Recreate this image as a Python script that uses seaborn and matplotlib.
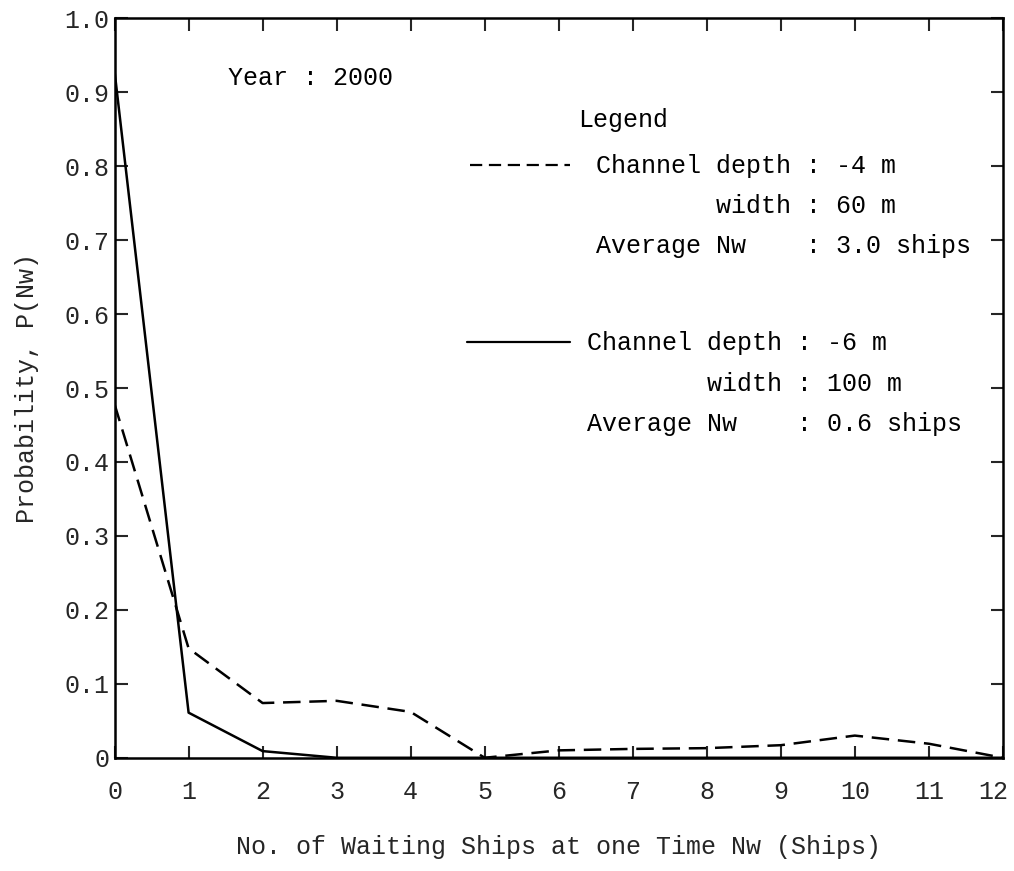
import numpy as np
import pandas as pd
import matplotlib
matplotlib.use("Agg")
import matplotlib.pyplot as plt
import matplotlib.transforms as mtransforms
import seaborn as sns

# ----------------------------
#   Data
# ----------------------------
waiting_ships = [0, 1, 2, 3, 4, 5, 6, 7, 8, 9, 10, 11, 12]
p_depth4 = [0.478, 0.148, 0.074, 0.077, 0.062, 0.0, 0.010, 0.012, 0.013, 0.017, 0.030, 0.019, 0.0]
p_depth6 = [0.928, 0.061, 0.009, 0.0, 0.0, 0.0, 0.0, 0.0, 0.0, 0.0, 0.0, 0.0, 0.0]

y_ticks = [0, 0.1, 0.2, 0.3, 0.4, 0.5, 0.6, 0.7, 0.8, 0.9, 1.0]
y_tick_labels = ["0", "0.1", "0.2", "0.3", "0.4", "0.5", "0.6", "0.7", "0.8", "0.9", "1.0"]

legend_lines_1 = ["Channel depth : -4 m", "        width : 60 m", "Average Nw    : 3.0 ships"]
legend_lines_2 = ["Channel depth : -6 m", "        width : 100 m", "Average Nw    : 0.6 ships"]

df = pd.DataFrame({"Nw": waiting_ships, "depth4": p_depth4, "depth6": p_depth6})

# ----------------------------
#   Style
# ----------------------------
sns.set_style("white")
plt.rcParams["font.family"] = ["Liberation Mono", "DejaVu Sans Mono"]
plt.rcParams["text.color"] = "black"

fig = plt.figure(figsize=(10.14, 8.71), dpi=100)
ax = fig.add_axes([0.113, 0.130, 0.876, 0.849])

sns.lineplot(data=df, x="Nw", y="depth4", ax=ax, color="black", linewidth=1.8,
             linestyle=(0, (7, 3.5)))
sns.lineplot(data=df, x="Nw", y="depth6", ax=ax, color="black", linewidth=1.8)

ax.set_xlim(0, 12)
ax.set_ylim(0, 1.0)
ax.set_xticks(waiting_ships)
ax.set_xticklabels([str(v) for v in waiting_ships], fontsize=18)
ax.set_yticks(y_ticks)
ax.set_yticklabels(y_tick_labels, fontsize=18)

ax.tick_params(axis="x", direction="in", length=9, width=1.5, top=True, bottom=True, pad=16)
ax.tick_params(axis="y", direction="in", length=9, width=1.5, left=True, right=True, pad=4)

# last x label sits a bit left of its tick, as in the original
last = ax.get_xticklabels()[-1]
last.set_transform(last.get_transform() + mtransforms.ScaledTranslation(-10 / 100, 0, fig.dpi_scale_trans))

for sp in ax.spines.values():
    sp.set_visible(True)
    sp.set_color("black")
    sp.set_linewidth(1.8)

ax.set_xlabel("No. of Waiting Ships at one Time Nw (Ships)", fontsize=18, labelpad=22)
ax.set_ylabel("Probability, P(Nw)", fontsize=18, labelpad=18)

# ----------------------------
#   Annotations / legend
# ----------------------------
ax.text(1.53, 0.919, "Year : 2000", fontsize=18, va="center")
ax.text(6.26, 0.862, "Legend", fontsize=18, va="center")

# legend keys
ax.plot([4.8, 6.15], [0.801, 0.801], color="black", linewidth=1.6, linestyle=(0, (5.5, 3)))
ax.plot([4.76, 6.15], [0.562, 0.562], color="black", linewidth=1.6)

for i, line in enumerate(legend_lines_1):
    ax.text(6.51, 0.800 - i * 0.054, line, fontsize=18, va="center")
for i, line in enumerate(legend_lines_2):
    ax.text(6.38, 0.561 - i * 0.055, line, fontsize=18, va="center")

plt.savefig("out.png", dpi=100)
